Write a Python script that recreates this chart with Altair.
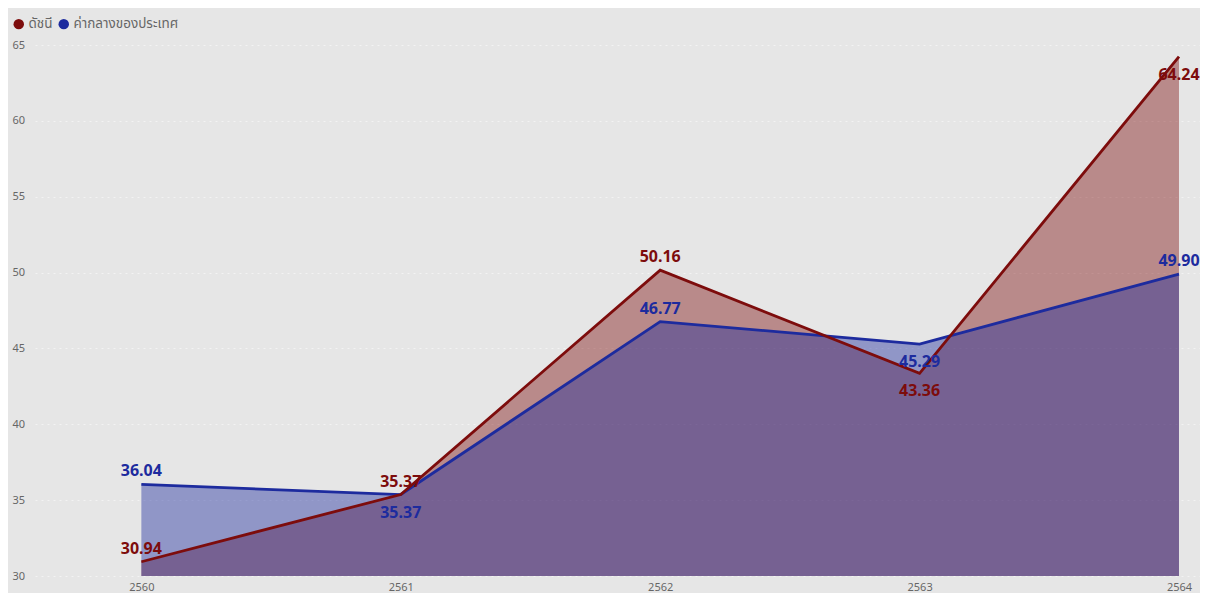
import altair as alt
import pandas as pd

years = [2560, 2561, 2562, 2563, 2564]
index_values = [30.94, 35.37, 50.16, 43.36, 64.24]
national_values = [36.04, 35.37, 46.77, 45.29, 49.90]
series_names = ["ดัชนี", "ค่ากลางของประเทศ"]
y_ticks = [30, 35, 40, 45, 50, 55, 60, 65]
# label placement relative to point, as in the reference
index_label_pos = ["above", "above", "above", "below", "below"]
national_label_pos = ["above", "below", "above", "below", "above"]

RED = "#7d0c0c"
BLUE = "#1d2b9e"

rows = []
for y, v, p in zip(years, index_values, index_label_pos):
    rows.append({"year": y, "value": v, "series": series_names[0], "pos": p})
for y, v, p in zip(years, national_values, national_label_pos):
    rows.append({"year": y, "value": v, "series": series_names[1], "pos": p})
df = pd.DataFrame(rows)

FONT = "Segoe UI, Noto Sans, Noto Sans Thai, sans-serif"

x_enc = alt.X("year:Q", scale=alt.Scale(domain=[2559.59, 2564.081], nice=False, zero=False),
              axis=alt.Axis(values=years, format="d", grid=False, ticks=False, domain=False,
                            labelPadding=5, labelFontSize=11, labelColor="#666666", title=None,
                            labelFont=FONT))
y_enc = alt.Y("value:Q", scale=alt.Scale(domain=[30, 65], nice=False, zero=False),
              axis=alt.Axis(values=y_ticks, grid=True, ticks=False, domain=False, labelAlign="left",
                            labelPadding=23, labelFontSize=11, labelColor="#666666", title=None,
                            gridColor="#f3f3f3", gridDash=[2, 4], gridWidth=1, labelFont=FONT))
color_enc = alt.Color("series:N",
                      scale=alt.Scale(domain=series_names, range=[RED, BLUE]),
                      legend=alt.Legend(title=None, orient="none", direction="horizontal",
                                        legendX=-23, legendY=-28, symbolType="circle",
                                        symbolSize=110, symbolOpacity=1, symbolStrokeWidth=0,
                                        labelFontSize=13.5, labelColor="#666666", labelFont=FONT,
                                        columnPadding=4, labelOffset=3))

base = alt.Chart(df)

area_red = base.transform_filter(alt.datum.series == series_names[0]).mark_area(
    opacity=0.42).encode(x=x_enc, y=y_enc, y2=alt.datum(30), color=color_enc)
area_blue = base.transform_filter(alt.datum.series == series_names[1]).mark_area(
    opacity=0.43).encode(x=x_enc, y=y_enc, y2=alt.datum(30), color=color_enc)

line_blue = base.transform_filter(alt.datum.series == series_names[1]).mark_line(
    strokeWidth=2.8).encode(x=x_enc, y=y_enc, color=color_enc)
line_red = base.transform_filter(alt.datum.series == series_names[0]).mark_line(
    strokeWidth=2.8).encode(x=x_enc, y=y_enc, color=color_enc)

text_above = base.transform_filter(alt.datum.pos == "above").mark_text(
    dy=-13, fontSize=16, fontWeight="bold", font=FONT, baseline="middle").encode(
    x=x_enc, y=y_enc, color=color_enc, text=alt.Text("value:Q", format=".2f"))
text_below = base.transform_filter(alt.datum.pos == "below").mark_text(
    dy=18, fontSize=16, fontWeight="bold", font=FONT, baseline="middle").encode(
    x=x_enc, y=y_enc, color=color_enc, text=alt.Text("value:Q", format=".2f"))

chart = alt.layer(area_red, area_blue, line_blue, line_red, text_above, text_below).properties(
    width=1165, height=531,
    autosize=alt.AutoSizeParams(type="none"),
    padding={"left": 27, "top": 37, "right": 0, "bottom": 17},
    background="#e6e6e6",
).configure_view(stroke=None)

chart.save("out.html", embed_options={"renderer": "svg", "actions": False})
